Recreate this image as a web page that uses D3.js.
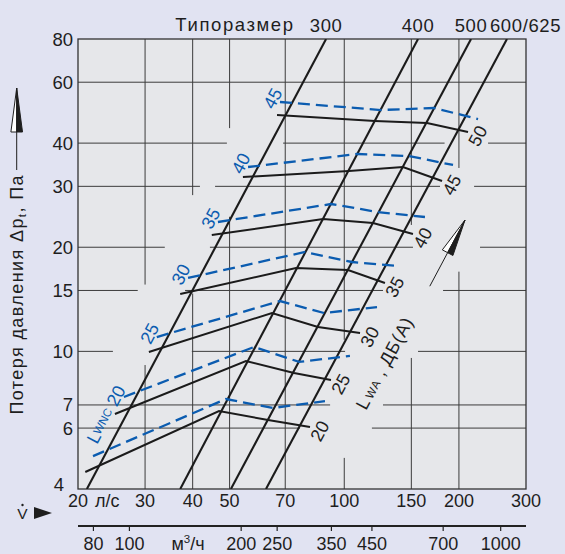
<!DOCTYPE html>
<html><head><meta charset="utf-8">
<script src="https://cdn.jsdelivr.net/npm/d3@7"></script>
<style>
html,body{margin:0;padding:0;background:#e1e3f2;}
svg{display:block;font-family:"Liberation Sans",Arial,Helvetica,sans-serif;}
</style></head><body>
<script>
// ---------- data ----------
const flowTicks = [20, 30, 40, 50, 70, 100, 150, 200, 300];        // л/с
const pressureTicks = [4, 6, 7, 10, 15, 20, 30, 40, 60, 80];       // Па
const m3hTicks = [80, 100, 200, 250, 350, 450, 700, 1000];         // м³/ч
const sizeNames = ["300", "400", "500", "600/625"];
const sizeFlowAt4Pa = [21.1, 37.1, 50.4, 62.3];
const sizeFlowAt80Pa = [89.6, 156.2, 215.2, 267.4];
const lwaLevels = [20, 25, 30, 35, 40, 45, 50];
const lwaCurves = [
  [[20.9, 4.48], [46.9, 6.72], [63.1, 6.33], [81.3, 6.04]],
  [[25.0, 6.59], [55.2, 9.38], [73.8, 8.66], [92.3, 8.26]],
  [[30.7, 9.96], [64.6, 12.91], [85.3, 11.76], [110.0, 11.30]],
  [[37.1, 14.65], [74.7, 17.41], [102.3, 17.18], [127.9, 15.76]],
  [[44.9, 21.69], [88.0, 24.14], [119.0, 23.51], [151.5, 21.84]],
  [[54.2, 31.92], [102.9, 33.22], [142.6, 34.12], [180.6, 31.08]],
  [[66.6, 48.23], [120.4, 46.34], [164.9, 45.71], [211.3, 43.07]]
];
const lwncLevels = [15, 20, 25, 30, 35, 40, 45];
const lwncCurves = [
  [[21.9, 4.98], [48.9, 7.28], [65.0, 6.86], [89.0, 7.18]],
  [[26.4, 7.38], [58.0, 10.30], [76.1, 9.32], [103.5, 9.70]],
  [[32.2, 11.00], [67.8, 13.98], [88.5, 12.91], [121.9, 13.43]],
  [[38.9, 16.30], [78.9, 19.38], [104.8, 18.13], [138.4, 17.65]],
  [[46.6, 23.66], [92.3, 26.67], [122.6, 25.28], [162.9, 24.46]],
  [[55.9, 34.12], [108.0, 37.20], [147.9, 36.71], [193.0, 34.58]],
  [[67.8, 52.59], [124.9, 49.86], [172.1, 50.54], [224.5, 46.96]]
];
// grid line pieces (the printed grid is interrupted around labels)
const hGridPressure = [60, 40, 30, 20, 15, 10, 7, 6];
const hGridFlowRanges = [
  [[20, 300]],
  [[20, 49.2], [69.1, 183.4], [238.5, 300]],
  [[20, 41.8], [45.8, 178.4], [219.2, 300]],
  [[20, 33.8], [44.4, 151.5], [227.2, 300]],
  [[20, 28.7], [38.2, 126.4], [181.7, 300]],
  [[20, 24.7], [39.8, 100.5], [156.2, 300]],
  [[20, 91.8], [126.4, 300]],
  [[20, 76.5], [118.2, 300]]
];
const vGridFlow = [30, 40, 50, 70, 100, 150, 200];
const vGridPressureRanges = [
  [[15.6, 80], [4, 9.13]],
  [[28.3, 80], [4, 14.7]],
  [[44.2, 80], [4, 24.5]],
  [[4, 80]],
  [[10.8, 80], [4, 4.92]],
  [[23.2, 80], [4, 9.57]],
  [[33.9, 80], [4, 17.0]]
];

// ---------- drawing ----------
const W = 565, H = 554;
const svg = d3.select("body").append("svg").attr("width", W).attr("height", H);
svg.append("rect").attr("width", W).attr("height", H).attr("fill", "#e1e3f2");

const x = d3.scaleLog().domain([20, 300]).range([78, 526]);
const y = d3.scaleLog().domain([4, 80]).range([489, 39]);
const xm = d3.scaleLog().domain([72.7, 1170]).range([78, 526]);

const X0 = x(20), X1 = x(300), Y0 = y(4), Y1 = y(80);
const txt = "#1e1e1e", blue = "#0b5cb0", ink = "#1b1b1b";
const FS = 18;

svg.append("rect").attr("x", X0).attr("y", Y1).attr("width", X1 - X0).attr("height", Y0 - Y1)
  .attr("fill", "#e6e7ea");

svg.append("clipPath").attr("id", "plot").append("rect")
  .attr("x", X0).attr("y", Y1).attr("width", X1 - X0).attr("height", Y0 - Y1);

// grid
const grid = svg.append("g").attr("stroke", "#3c3c3c").attr("stroke-width", 1);
vGridFlow.forEach((v, i) => vGridPressureRanges[i].forEach(r => grid.append("line")
  .attr("x1", x(v)).attr("x2", x(v)).attr("y1", y(r[0])).attr("y2", y(r[1]))));
hGridPressure.forEach((v, i) => hGridFlowRanges[i].forEach(r => grid.append("line")
  .attr("y1", y(v)).attr("y2", y(v)).attr("x1", x(r[0])).attr("x2", x(r[1]))));

// frame
svg.append("rect").attr("x", X0).attr("y", Y1).attr("width", X1 - X0).attr("height", Y0 - Y1)
  .attr("fill", "none").attr("stroke", "#333").attr("stroke-width", 1.3);

const plot = svg.append("g").attr("clip-path", "url(#plot)");
const line = d3.line().x(d => x(d[0])).y(d => y(d[1]));

// size lines
sizeNames.forEach((n, i) => {
  plot.append("path").attr("d", line([[sizeFlowAt4Pa[i], 4], [sizeFlowAt80Pa[i], 80]]))
    .attr("fill", "none").attr("stroke", ink).attr("stroke-width", 2.1);
});

// LWNC dashed
lwncCurves.forEach(c => plot.append("path").attr("d", line(c))
  .attr("fill", "none").attr("stroke", blue).attr("stroke-width", 2.3)
  .attr("stroke-dasharray", "12,6"));
// LWA solid
lwaCurves.forEach(c => plot.append("path").attr("d", line(c))
  .attr("fill", "none").attr("stroke", ink).attr("stroke-width", 2));

const ANG = -62;
// LWA labels
lwaCurves.forEach((c, i) => {
  const p = c[c.length - 1];
  svg.append("text").attr("transform", `translate(${x(p[0]) + 10},${y(p[1]) + 4}) rotate(${ANG})`)
    .attr("text-anchor", "middle").attr("dominant-baseline", "central")
    .attr("font-size", FS).attr("fill", txt).text(lwaLevels[i]);
});
// LWNC labels
lwncCurves.forEach((c, i) => {
  const p = c[0], lv = lwncLevels[i];
  if (lv === 15) return;
  if (lv === 20) {
    const t = svg.append("text").attr("transform", `translate(${x(p[0]) - 3},${y(p[1]) - 10}) rotate(${ANG})`)
      .attr("text-anchor", "end").attr("dominant-baseline", "central")
      .attr("font-size", FS).attr("fill", blue);
    t.append("tspan").text("L");
    t.append("tspan").attr("font-size", 11.5).text("WNC");
    t.append("tspan").text(" " + lv);
    return;
  }
  svg.append("text").attr("transform", `translate(${x(p[0]) - 7},${y(p[1]) - 3.5}) rotate(${ANG})`)
    .attr("text-anchor", "middle").attr("dominant-baseline", "central")
    .attr("font-size", FS).attr("fill", blue).text(lv);
});

// top labels
svg.append("text").attr("x", 235).attr("y", 31).attr("text-anchor", "middle")
  .attr("font-size", 18.5).attr("letter-spacing", 1.6).attr("fill", txt).text("Типоразмер");
sizeNames.forEach((n, i) => {
  const last = i === sizeNames.length - 1;
  svg.append("text").attr("x", x(sizeFlowAt80Pa[i]) + (last ? -17 : 0)).attr("y", 32)
    .attr("text-anchor", last ? "start" : "middle").attr("font-size", 18.5)
    .attr("letter-spacing", 0.6).attr("fill", txt).text(n);
});

// y tick labels
pressureTicks.forEach(v => {
  const special = v === 4;
  svg.append("text").attr("x", special ? 64 : 73).attr("y", y(v) + (special ? -5 : 0))
    .attr("text-anchor", "end").attr("dominant-baseline", "central")
    .attr("font-size", 18.5).attr("fill", txt).text(v);
});

// x tick labels (л/с)
flowTicks.forEach(v => {
  svg.append("text").attr("x", x(v)).attr("y", 507).attr("text-anchor", "middle")
    .attr("font-size", FS).attr("fill", txt).text(v);
});
svg.append("text").attr("x", x(20) + 17).attr("y", 507).attr("font-size", FS).attr("fill", txt).text("л/с");

// m3/h axis
svg.append("line").attr("x1", xm(72.7)).attr("x2", xm(1170)).attr("y1", 526).attr("y2", 526)
  .attr("stroke", "#222").attr("stroke-width", 2);
m3hTicks.forEach(v => {
  svg.append("line").attr("x1", xm(v)).attr("x2", xm(v)).attr("y1", 526).attr("y2", 531)
    .attr("stroke", "#222").attr("stroke-width", 1.2);
  svg.append("text").attr("x", xm(v)).attr("y", 550).attr("text-anchor", "middle")
    .attr("font-size", FS).attr("fill", txt).text(v);
});
{
  const t = svg.append("text").attr("x", 188).attr("y", 550).attr("text-anchor", "middle")
    .attr("font-size", FS).attr("fill", txt);
  t.append("tspan").text("м");
  t.append("tspan").attr("font-size", 11.5).attr("dy", -7).text("3");
  t.append("tspan").attr("dy", 7).text("/ч");
}

// V-dot and arrow
svg.append("text").attr("x", 22.5).attr("y", 519).attr("text-anchor", "middle")
  .attr("font-size", 15.5).attr("fill", txt).text("V");
svg.append("circle").attr("cx", 22.5).attr("cy", 505).attr("r", 1.2).attr("fill", txt);
svg.append("path").attr("d", "M34,507L52,513L34,519Z").attr("fill", txt);

// arrows (half outlined, half filled)
function arrow(tx, ty, angDeg, len, hw, tail) {
  const a = angDeg * Math.PI / 180;
  const ux = Math.cos(a), uy = Math.sin(a);
  const px = -uy, py = ux;
  const bx = tx - ux * len, by = ty - uy * len;
  const g = svg.append("g");
  g.append("line").attr("x1", bx).attr("y1", by).attr("x2", bx - ux * tail).attr("y2", by - uy * tail)
    .attr("stroke", txt).attr("stroke-width", 1);
  g.append("path").attr("d", `M${tx},${ty}L${bx - px * hw},${by - py * hw}L${bx},${by}Z`)
    .attr("fill", "#fff").attr("stroke", txt).attr("stroke-width", 1).attr("stroke-linejoin", "round");
  g.append("path").attr("d", `M${tx},${ty}L${bx + px * hw},${by + py * hw}L${bx},${by}Z`)
    .attr("fill", txt).attr("stroke", txt).attr("stroke-width", 1).attr("stroke-linejoin", "round");
}
arrow(16.7, 88, -90, 44, 5.8, 38);
arrow(465, 220, -62, 37, 6, 38);

// y axis title
{
  const t = svg.append("text").attr("transform", "translate(22.5,174) rotate(-90)")
    .attr("text-anchor", "end").attr("font-size", 18).attr("letter-spacing", 1.4).attr("fill", txt);
  t.append("tspan").text("Потеря давления Δp");
  t.append("tspan").attr("font-size", 11.5).attr("dy", 3).text("t");
  t.append("tspan").attr("dy", -3).text(", Па");
}
// LWA title
{
  const t = svg.append("text").attr("transform", "translate(366,411) rotate(-62)")
    .attr("font-size", 18).attr("letter-spacing", 0.8).attr("fill", txt);
  t.append("tspan").text("L");
  t.append("tspan").attr("font-size", 11.5).attr("dx", 2).text("WA");
  t.append("tspan").text(" , ДБ(А)");
}
</script>
</body></html>
